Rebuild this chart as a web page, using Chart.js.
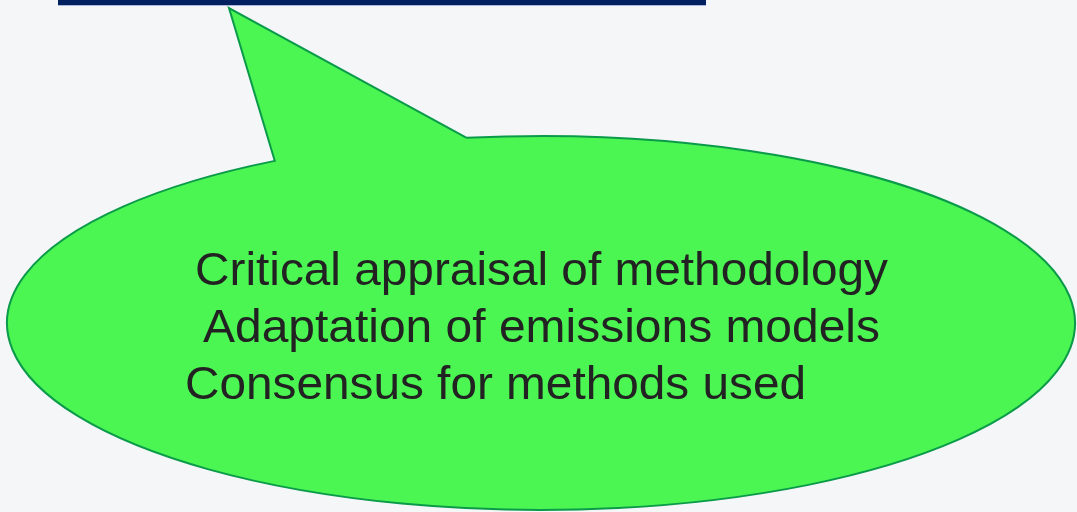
<!DOCTYPE html>
<html>
<head>
<meta charset="utf-8">
<script src="https://cdn.jsdelivr.net/npm/chart.js@4.4.1/dist/chart.umd.min.js"></script>
<style>
  html, body { margin: 0; padding: 0; background: #F4F6F8; }
  #wrap { width: 1077px; height: 512px; position: relative; }
</style>
</head>
<body>
<div id="wrap"><canvas id="c"></canvas></div>
<script>
// Text lines shown inside the callout
const lines = [
  "Critical appraisal of methodology",
  "Adaptation of emissions models",
  "Consensus for methods used"
];
// Anchor points (x = left edge of text, y = baseline) in canvas units
const lineX = [195, 203, 185];
const lineY = [285, 342, 399];
// Rendered widths of each line
const lineW = [693, 677, 621];

const callout = {
  cx: 541, cy: 323, rx: 534, ry: 187,
  tip: [229, 8], leftAngle: -119.9, rightAngle: -98.0,
  fill: '#4BF552', stroke: '#0A9A4A'
};

const calloutPlugin = {
  id: 'callout',
  beforeDatasetsDraw(chart) {
    const { ctx, scales: { x, y } } = chart;
    const px = v => x.getPixelForValue(v);
    const py = v => y.getPixelForValue(v);
    ctx.save();
    // top bar
    ctx.fillStyle = '#002060';
    ctx.fillRect(px(58), py(0), px(706) - px(58), py(5) - py(0));
    ctx.fillStyle = 'rgba(120,140,200,0.6)';
    ctx.fillRect(px(58), py(5), px(706) - px(58), 1);

    const c = callout;
    const cx = px(c.cx), cy = py(c.cy);
    const rx = px(c.cx + c.rx) - cx, ry = py(c.cy + c.ry) - cy;
    const t1 = c.leftAngle * Math.PI / 180, t2 = c.rightAngle * Math.PI / 180;
    const rbx = cx + rx * Math.cos(t2), rby = cy + ry * Math.sin(t2);
    ctx.beginPath();
    ctx.moveTo(rbx, rby);
    ctx.lineTo(px(c.tip[0]), py(c.tip[1]));
    ctx.lineTo(cx + rx * Math.cos(t1), cy + ry * Math.sin(t1));
    ctx.ellipse(cx, cy, rx, ry, 0, t1, t2, true);
    ctx.closePath();
    ctx.fillStyle = c.fill;
    ctx.fill();
    ctx.lineWidth = 2;
    ctx.strokeStyle = c.stroke;
    ctx.lineJoin = 'miter';
    ctx.stroke();
    ctx.restore();
  },
  afterDatasetsDraw(chart) {
    const { ctx } = chart;
    const meta = chart.getDatasetMeta(0);
    ctx.save();
    ctx.fillStyle = '#222222';
    ctx.font = '46px "Liberation Sans", Arial, sans-serif';
    ctx.textBaseline = 'alphabetic';
    ctx.textAlign = 'left';
    meta.data.forEach((el, i) => {
      const w = ctx.measureText(lines[i]).width;
      const s = lineW[i] / w;
      ctx.save();
      ctx.translate(el.x, el.y);
      ctx.scale(s, 1);
      ctx.fillText(lines[i], 0, 0);
      ctx.restore();
    });
    ctx.restore();
  }
};

new Chart(document.getElementById('c'), {
  type: 'scatter',
  data: {
    datasets: [{
      label: 'text',
      data: lines.map((t, i) => ({ x: lineX[i], y: lineY[i] })),
      pointRadius: 0,
      pointHoverRadius: 0
    }]
  },
  options: {
    responsive: true,
    maintainAspectRatio: false,
    animation: false,
    events: [],
    layout: { padding: 0 },
    plugins: { legend: { display: false }, tooltip: { enabled: false }, title: { display: false } },
    scales: {
      x: { type: 'linear', min: 0, max: 1077, display: false },
      y: { type: 'linear', min: 0, max: 512, reverse: true, display: false }
    }
  },
  plugins: [calloutPlugin]
});
</script>
</body>
</html>
